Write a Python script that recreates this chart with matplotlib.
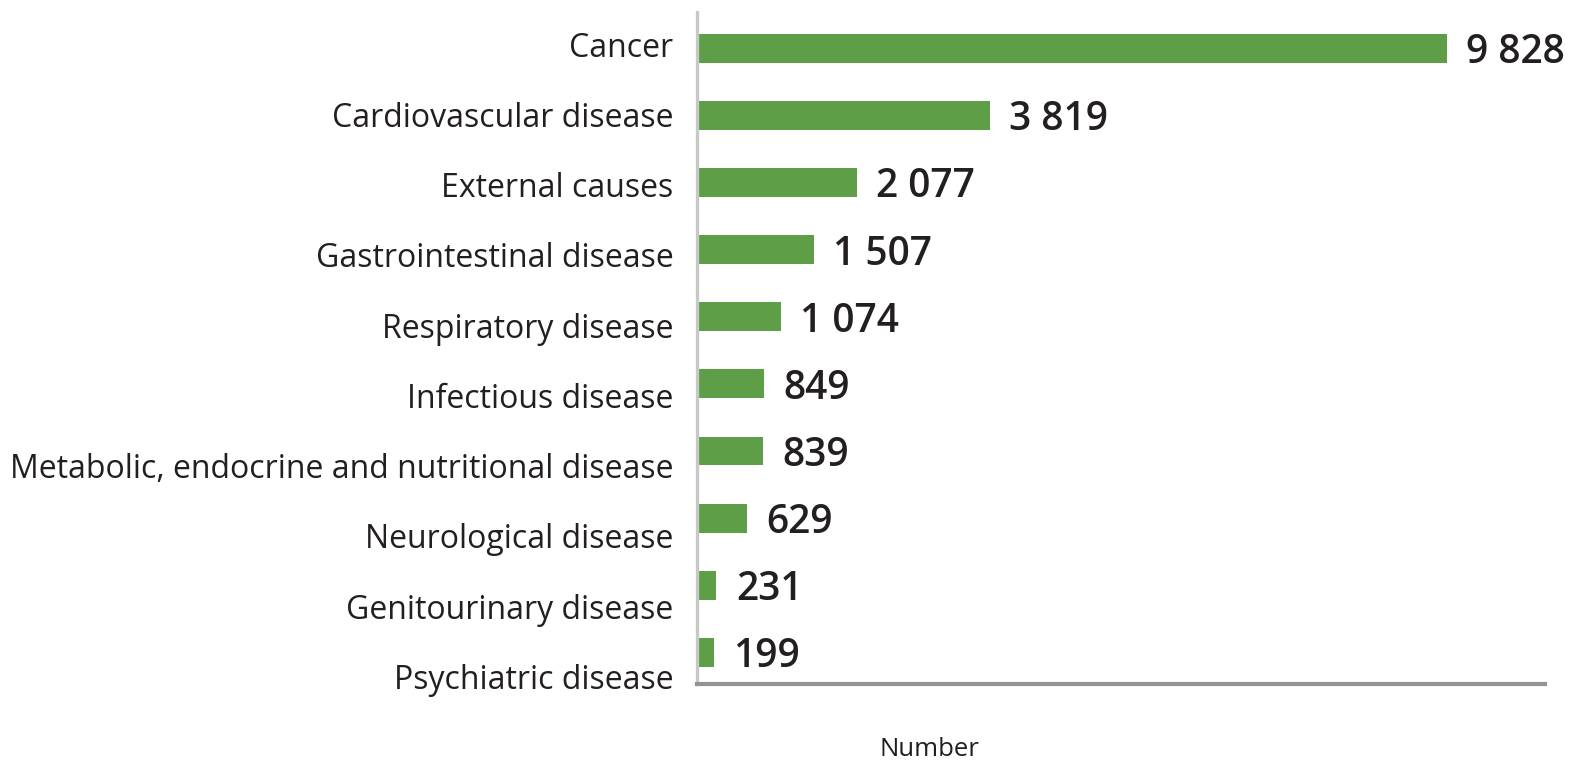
import matplotlib
matplotlib.use("Agg")
import matplotlib.pyplot as plt
import matplotlib.transforms as mtransforms

plt.rcParams["font.family"] = ["Open Sans", "DejaVu Sans"]

categories = [
    "Cancer",
    "Cardiovascular disease",
    "External causes",
    "Gastrointestinal disease",
    "Respiratory disease",
    "Infectious disease",
    "Metabolic, endocrine and nutritional disease",
    "Neurological disease",
    "Genitourinary disease",
    "Psychiatric disease",
]
values = [9828, 3819, 2077, 1507, 1074, 849, 839, 629, 231, 199]
value_labels = ["9 828", "3 819", "2 077", "1 507", "1 074", "849", "839", "629", "231", "199"]

BAR = "#5d9e47"
TXT = "#231f20"

fig = plt.figure(figsize=(15.69, 7.6), dpi=100)
ax = fig.add_axes([697 / 1569, 1 - 684 / 760, (1545 - 697) / 1569, (684 - 12) / 760])

pos = list(range(len(categories)))
ax.barh(pos, values, height=0.43, color=BAR, zorder=2)
ax.set_ylim(9.47, -0.54)
ax.set_xlim(-25, 11115)

# value labels, right of bars
for i, (v, lab) in enumerate(zip(values, value_labels)):
    ax.annotate(lab, (v, i), xytext=(14, -3.5), textcoords="offset points",
                ha="left", va="center", fontsize=28, fontweight="semibold", color=TXT)

# category labels drift slightly downward relative to bars
ax.set_yticks([])
for i, cat in enumerate(categories):
    tr = ax.get_yaxis_transform() + mtransforms.ScaledTranslation(
        -17 / 72, -i * 3.1 / 100, fig.dpi_scale_trans)
    ax.text(0, i, cat, transform=tr, ha="right", va="center", fontsize=23, color=TXT)

ax.set_xticks([])
for s in ("top", "right"):
    ax.spines[s].set_visible(False)
ax.spines["left"].set_color("#c8c8c8")
ax.spines["left"].set_linewidth(2.4)
ax.spines["bottom"].set_color("#939393")
ax.spines["bottom"].set_linewidth(3)

ax.set_xlabel("Number", fontsize=18.5, color=TXT, va="center")
ax.xaxis.set_label_coords((929 - 697) / (1545 - 697), -0.098)

fig.savefig("out.png", dpi=100, facecolor="white")
